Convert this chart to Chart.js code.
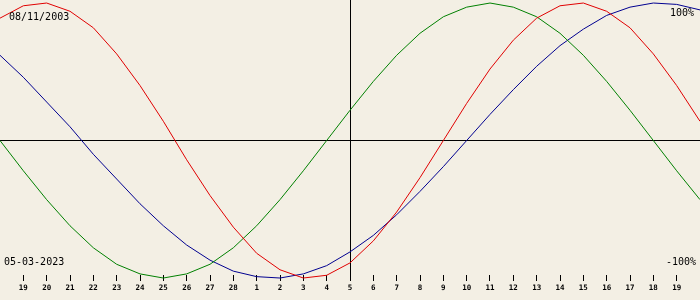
<!DOCTYPE html>
<html lang="en">
<head>
<meta charset="UTF-8">
<title>Biorhythm</title>
<style>
    html, body { margin: 0; padding: 0; background: #f3efe4; }
    #wrap { width: 700px; height: 300px; position: relative; }
</style>
</head>
<body>
<div id="wrap"><canvas id="chart"></canvas></div>
<script src="https://cdn.jsdelivr.net/npm/chart.js"></script>
<script>
// days shown (18 Feb .. 20 Mar 2023), ends are off-screen labels
const days = [18, 19, 20, 21, 22, 23, 24, 25, 26, 27, 28,
    1, 2, 3, 4, 5, 6, 7, 8, 9, 10, 11, 12, 13, 14, 15, 16, 17, 18, 19, 20];
const physical = [0.89, 0.98, 1.00, 0.94, 0.82, 0.63, 0.40, 0.14, -0.14, -0.40, -0.63,
    -0.82, -0.94, -1.00, -0.98, -0.89, -0.73, -0.52, -0.27, 0.00, 0.27, 0.52, 0.73, 0.89,
    0.98, 1.00, 0.94, 0.82, 0.63, 0.40, 0.14];
const emotional = [0.00, -0.22, -0.43, -0.62, -0.78, -0.90, -0.97, -1.00, -0.97, -0.90, -0.78,
    -0.62, -0.43, -0.22, 0.00, 0.22, 0.43, 0.62, 0.78, 0.90, 0.97, 1.00, 0.97, 0.90,
    0.78, 0.62, 0.43, 0.22, 0.00, -0.22, -0.43];
const intellectual = [0.62, 0.46, 0.28, 0.10, -0.10, -0.28, -0.46, -0.62, -0.76, -0.87, -0.95,
    -0.99, -1.00, -0.97, -0.91, -0.81, -0.69, -0.54, -0.37, -0.19, 0.00, 0.19, 0.37, 0.54,
    0.69, 0.81, 0.91, 0.97, 1.00, 0.99, 0.95];
const todayIndex = 15;
const birthText = '08/11/2003';
const dateText = '05-03-2023';

const cornerText = {
    id: 'cornerText',
    afterDatasetsDraw(chart) {
        const ctx = chart.ctx;
        ctx.save();
        ctx.font = '10px "DejaVu Sans Mono"';
        ctx.fillStyle = '#000';
        ctx.textBaseline = 'middle';
        ctx.textAlign = 'left';
        ctx.fillText(birthText, 9, 17);
        ctx.fillText(dateText, 4, 262);
        ctx.textAlign = 'right';
        ctx.fillText('100%', 694, 13);
        ctx.fillText('-100%', 696, 262);
        ctx.restore();
    }
};

new Chart(document.getElementById('chart'), {
    type: 'line',
    data: {
        labels: days,
        datasets: [
            { data: physical, borderColor: '#e00000', clip: false },
            { data: emotional, borderColor: '#008000', clip: false },
            { data: intellectual, borderColor: '#000090', clip: false }
        ]
    },
    options: {
        responsive: true,
        maintainAspectRatio: false,
        animation: false,
        events: [],
        layout: { autoPadding: false, padding: { left: 0, right: 0, top: 0, bottom: 4 } },
        elements: {
            line: { borderWidth: 1, tension: 0 },
            point: { radius: 0 }
        },
        plugins: { legend: { display: false }, tooltip: { enabled: false } },
        scales: {
            x: {
                offset: false,
                border: { display: false },
                grid: {
                    drawOnChartArea: true,
                    tickLength: 6,
                    color: c => c.index === todayIndex ? '#000' : 'rgba(0,0,0,0)',
                    tickColor: c => (c.index === 0 || c.index === days.length - 1) ? 'rgba(0,0,0,0)' : '#000'
                },
                ticks: {
                    autoSkip: false,
                    maxRotation: 0,
                    padding: 0,
                    color: '#000',
                    font: { family: 'DejaVu Sans Mono', size: 7.5, weight: 'bold', lineHeight: '15px' },
                    callback: (v, i) => (i === 0 || i === days.length - 1) ? '' : days[i]
                }
            },
            y: {
                min: -0.978,
                max: 1.022,
                border: { display: false },
                afterBuildTicks: s => { s.ticks = [{ value: 0 }]; },
                grid: { drawTicks: false, color: '#000' },
                ticks: { display: false }
            }
        }
    },
    plugins: [cornerText]
});
</script>
</body>
</html>
